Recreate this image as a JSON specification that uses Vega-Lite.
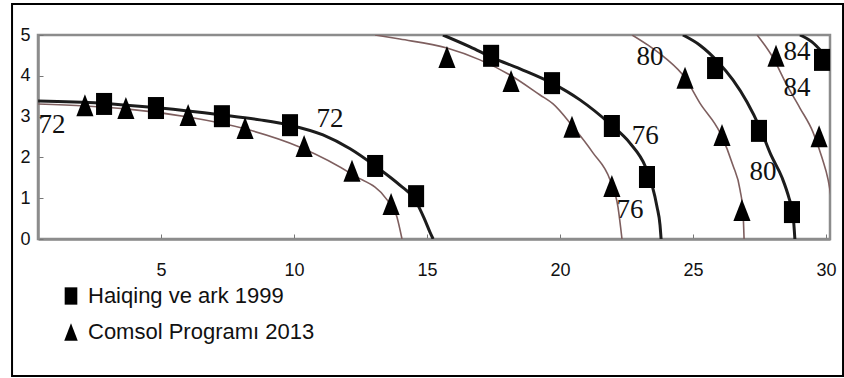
{
  "$schema": "https://vega.github.io/schema/vega-lite/v6.json",
  "width": 792,
  "height": 204,
  "autosize": {"type": "none"},
  "padding": {"left": 38, "top": 35, "right": 14, "bottom": 139},
  "background": "white",
  "config": {
    "view": {"stroke": "#8c8c8c", "strokeWidth": 2.5},
    "axis": {
      "grid": false,
      "domainColor": "#8c8c8c",
      "domainWidth": 2.5,
      "tickColor": "#777",
      "tickSize": -5,
      "labelFont": "Liberation Sans",
      "labelFontSize": 18,
      "labelColor": "#111",
      "title": null
    }
  },
  "datasets": {
    "curves": [
      {"curve": "H72", "src": "H", "x": 0.38, "y": 3.38},
      {"curve": "H72", "src": "H", "x": 2.71, "y": 3.33},
      {"curve": "H72", "src": "H", "x": 4.96, "y": 3.21},
      {"curve": "H72", "src": "H", "x": 7.29, "y": 3.04},
      {"curve": "H72", "src": "H", "x": 8.72, "y": 2.92},
      {"curve": "H72", "src": "H", "x": 9.85, "y": 2.79},
      {"curve": "H72", "src": "H", "x": 11.09, "y": 2.55},
      {"curve": "H72", "src": "H", "x": 12.11, "y": 2.21},
      {"curve": "H72", "src": "H", "x": 13.05, "y": 1.79},
      {"curve": "H72", "src": "H", "x": 13.98, "y": 1.32},
      {"curve": "H72", "src": "H", "x": 14.55, "y": 0.96},
      {"curve": "H72", "src": "H", "x": 14.89, "y": 0.51},
      {"curve": "H72", "src": "H", "x": 15.11, "y": 0.17},
      {"curve": "H72", "src": "H", "x": 15.23, "y": 0},
      {"curve": "H76", "src": "H", "x": 15.6, "y": 5.0},
      {"curve": "H76", "src": "H", "x": 16.62, "y": 4.71},
      {"curve": "H76", "src": "H", "x": 17.48, "y": 4.44},
      {"curve": "H76", "src": "H", "x": 18.5, "y": 4.17},
      {"curve": "H76", "src": "H", "x": 19.7, "y": 3.82},
      {"curve": "H76", "src": "H", "x": 20.75, "y": 3.41},
      {"curve": "H76", "src": "H", "x": 21.88, "y": 2.82},
      {"curve": "H76", "src": "H", "x": 22.63, "y": 2.35},
      {"curve": "H76", "src": "H", "x": 23.2, "y": 1.79},
      {"curve": "H76", "src": "H", "x": 23.46, "y": 1.32},
      {"curve": "H76", "src": "H", "x": 23.65, "y": 0.78},
      {"curve": "H76", "src": "H", "x": 23.76, "y": 0.34},
      {"curve": "H76", "src": "H", "x": 23.8, "y": 0},
      {"curve": "H80", "src": "H", "x": 24.62, "y": 5.0},
      {"curve": "H80", "src": "H", "x": 25.26, "y": 4.75},
      {"curve": "H80", "src": "H", "x": 25.94, "y": 4.34},
      {"curve": "H80", "src": "H", "x": 26.5, "y": 3.9},
      {"curve": "H80", "src": "H", "x": 27.03, "y": 3.36},
      {"curve": "H80", "src": "H", "x": 27.52, "y": 2.72},
      {"curve": "H80", "src": "H", "x": 27.93, "y": 2.06},
      {"curve": "H80", "src": "H", "x": 28.35, "y": 1.5},
      {"curve": "H80", "src": "H", "x": 28.61, "y": 1.0},
      {"curve": "H80", "src": "H", "x": 28.76, "y": 0.59},
      {"curve": "H80", "src": "H", "x": 28.83, "y": 0},
      {"curve": "H84", "src": "H", "x": 29.02, "y": 5.0},
      {"curve": "H84", "src": "H", "x": 29.47, "y": 4.83},
      {"curve": "H84", "src": "H", "x": 29.85, "y": 4.58},
      {"curve": "H84", "src": "H", "x": 30.3, "y": 4.2},
      {"curve": "C72", "src": "C", "x": 0.38, "y": 3.31},
      {"curve": "C72", "src": "C", "x": 2.14, "y": 3.26},
      {"curve": "C72", "src": "C", "x": 3.68, "y": 3.19},
      {"curve": "C72", "src": "C", "x": 6.02, "y": 2.99},
      {"curve": "C72", "src": "C", "x": 8.16, "y": 2.7},
      {"curve": "C72", "src": "C", "x": 10.23, "y": 2.25},
      {"curve": "C72", "src": "C", "x": 12.22, "y": 1.57},
      {"curve": "C72", "src": "C", "x": 13.5, "y": 0.96},
      {"curve": "C72", "src": "C", "x": 13.87, "y": 0.54},
      {"curve": "C72", "src": "C", "x": 14.06, "y": 0},
      {"curve": "C76", "src": "C", "x": 13.05, "y": 5.0},
      {"curve": "C76", "src": "C", "x": 13.98, "y": 4.9},
      {"curve": "C76", "src": "C", "x": 15.75, "y": 4.68},
      {"curve": "C76", "src": "C", "x": 16.99, "y": 4.39},
      {"curve": "C76", "src": "C", "x": 18.12, "y": 4.02},
      {"curve": "C76", "src": "C", "x": 19.25, "y": 3.53},
      {"curve": "C76", "src": "C", "x": 19.74, "y": 3.31},
      {"curve": "C76", "src": "C", "x": 20.49, "y": 2.75},
      {"curve": "C76", "src": "C", "x": 21.24, "y": 2.11},
      {"curve": "C76", "src": "C", "x": 21.88, "y": 1.45},
      {"curve": "C76", "src": "C", "x": 22.18, "y": 0.78},
      {"curve": "C76", "src": "C", "x": 22.33, "y": 0},
      {"curve": "C80", "src": "C", "x": 22.71, "y": 5.0},
      {"curve": "C80", "src": "C", "x": 23.31, "y": 4.75},
      {"curve": "C80", "src": "C", "x": 23.95, "y": 4.44},
      {"curve": "C80", "src": "C", "x": 24.7, "y": 3.95},
      {"curve": "C80", "src": "C", "x": 25.26, "y": 3.33},
      {"curve": "C80", "src": "C", "x": 26.02, "y": 2.6},
      {"curve": "C80", "src": "C", "x": 26.5, "y": 1.81},
      {"curve": "C80", "src": "C", "x": 26.77, "y": 1.2},
      {"curve": "C80", "src": "C", "x": 26.88, "y": 0.66},
      {"curve": "C80", "src": "C", "x": 26.92, "y": 0},
      {"curve": "C84", "src": "C", "x": 27.41, "y": 5.0},
      {"curve": "C84", "src": "C", "x": 28.01, "y": 4.44},
      {"curve": "C84", "src": "C", "x": 28.53, "y": 3.77},
      {"curve": "C84", "src": "C", "x": 29.02, "y": 3.21},
      {"curve": "C84", "src": "C", "x": 29.51, "y": 2.62},
      {"curve": "C84", "src": "C", "x": 29.85, "y": 1.99},
      {"curve": "C84", "src": "C", "x": 30.08, "y": 1.45},
      {"curve": "C84", "src": "C", "x": 30.2, "y": 1.0}
    ],
    "points": [
      {"series": "Haiqing ve ark 1999", "x": 2.86, "y": 3.31},
      {"series": "Haiqing ve ark 1999", "x": 4.81, "y": 3.21},
      {"series": "Haiqing ve ark 1999", "x": 7.29, "y": 3.01},
      {"series": "Haiqing ve ark 1999", "x": 9.85, "y": 2.79},
      {"series": "Haiqing ve ark 1999", "x": 13.05, "y": 1.79},
      {"series": "Haiqing ve ark 1999", "x": 14.59, "y": 1.05},
      {"series": "Haiqing ve ark 1999", "x": 17.41, "y": 4.49},
      {"series": "Haiqing ve ark 1999", "x": 19.7, "y": 3.82},
      {"series": "Haiqing ve ark 1999", "x": 21.95, "y": 2.77},
      {"series": "Haiqing ve ark 1999", "x": 23.27, "y": 1.52},
      {"series": "Haiqing ve ark 1999", "x": 25.83, "y": 4.19},
      {"series": "Haiqing ve ark 1999", "x": 27.48, "y": 2.65},
      {"series": "Haiqing ve ark 1999", "x": 28.72, "y": 0.66},
      {"series": "Haiqing ve ark 1999", "x": 29.85, "y": 4.39},
      {"series": "Comsol Programı 2013", "x": 2.14, "y": 3.28},
      {"series": "Comsol Programı 2013", "x": 3.68, "y": 3.21},
      {"series": "Comsol Programı 2013", "x": 6.02, "y": 3.04},
      {"series": "Comsol Programı 2013", "x": 8.16, "y": 2.72},
      {"series": "Comsol Programı 2013", "x": 10.38, "y": 2.28},
      {"series": "Comsol Programı 2013", "x": 12.18, "y": 1.67},
      {"series": "Comsol Programı 2013", "x": 13.65, "y": 0.86},
      {"series": "Comsol Programı 2013", "x": 15.75, "y": 4.46},
      {"series": "Comsol Programı 2013", "x": 18.16, "y": 3.87},
      {"series": "Comsol Programı 2013", "x": 20.45, "y": 2.75},
      {"series": "Comsol Programı 2013", "x": 21.95, "y": 1.3},
      {"series": "Comsol Programı 2013", "x": 24.7, "y": 3.95},
      {"series": "Comsol Programı 2013", "x": 26.09, "y": 2.55},
      {"series": "Comsol Programı 2013", "x": 26.84, "y": 0.71},
      {"series": "Comsol Programı 2013", "x": 28.12, "y": 4.49},
      {"series": "Comsol Programı 2013", "x": 29.74, "y": 2.52}
    ],
    "labels": [
      {"label": "72", "x": 0.9, "y": 2.79},
      {"label": "72", "x": 11.35, "y": 2.95},
      {"label": "76", "x": 23.2, "y": 2.52},
      {"label": "76", "x": 22.63, "y": 0.71},
      {"label": "80", "x": 23.38, "y": 4.46},
      {"label": "80", "x": 27.63, "y": 1.64},
      {"label": "84", "x": 28.91, "y": 4.58},
      {"label": "84", "x": 28.91, "y": 3.7}
    ],
    "frame": [
      {"x": -0.6, "x2": 30.64, "y": 5.76, "y2": -3.36}
    ]
  },
  "encoding": {
    "x": {"field": "x", "type": "quantitative", "scale": {"domain": [0.376, 30.15], "nice": false, "zero": false},
      "axis": {"values": [5, 10, 15, 20, 25, 30], "labelPadding": 27}},
    "y": {"field": "y", "type": "quantitative", "scale": {"domain": [0, 5], "nice": false},
      "axis": {"values": [0, 1, 2, 3, 4, 5], "labelPadding": 13}}
  },
  "layer": [
    {
      "data": {"name": "curves"},
      "transform": [{"filter": "datum.src === 'C'"}],
      "mark": {"type": "line", "color": "#7e5f5f", "strokeWidth": 1.6, "interpolate": "monotone", "clip": true},
      "encoding": {"detail": {"field": "curve"}}
    },
    {
      "data": {"name": "curves"},
      "transform": [{"filter": "datum.src === 'H'"}],
      "mark": {"type": "line", "color": "#1c1c1c", "strokeWidth": 3, "interpolate": "monotone", "clip": true},
      "encoding": {"detail": {"field": "curve"}}
    },
    {
      "data": {"name": "labels"},
      "mark": {"type": "text", "font": "Liberation Serif", "fontSize": 27, "color": "#111", "align": "center", "baseline": "middle"},
      "encoding": {"text": {"field": "label"}}
    },
    {
      "data": {"name": "points"},
      "mark": {"type": "point", "filled": true, "color": "black", "opacity": 1, "size": 484, "clip": false},
      "encoding": {
        "shape": {
          "field": "series", "type": "nominal",
          "scale": {"domain": ["Haiqing ve ark 1999", "Comsol Programı 2013"],
            "range": ["M-0.73,-1L0.73,-1L0.73,1L-0.73,1Z", "M0,-1L0.78,1L-0.78,1Z"]},
          "legend": {
            "title": null, "orient": "none", "legendX": 22, "legendY": 250,
            "labelFont": "Liberation Sans",
            "labelFontSize": 22, "labelColor": "#111", "labelLimit": 500,
            "symbolSize": 300, "symbolFillColor": "black", "symbolStrokeColor": "black", "symbolStrokeWidth": 0,
            "rowPadding": 14, "labelOffset": 6
          }
        }
      }
    },
    {
      "data": {"name": "frame"},
      "mark": {"type": "rect", "fill": "transparent", "stroke": "black", "strokeWidth": 2, "clip": false},
      "encoding": {
        "x": {"field": "x", "type": "quantitative"},
        "x2": {"field": "x2"},
        "y": {"field": "y", "type": "quantitative"},
        "y2": {"field": "y2"}
      }
    }
  ]
}
